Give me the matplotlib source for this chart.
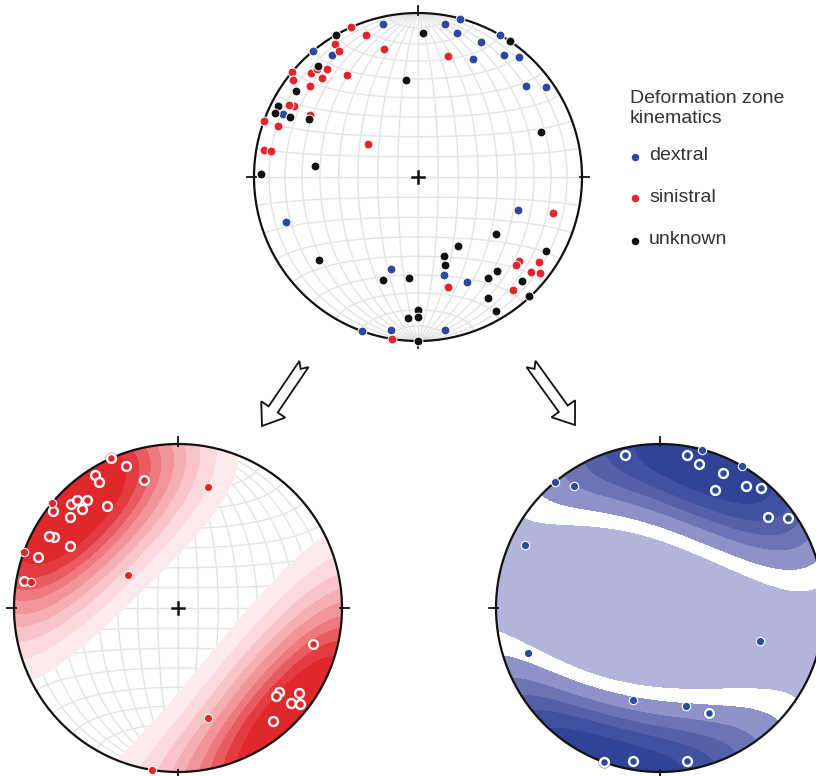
import numpy as np
import matplotlib
matplotlib.use('Agg')
import matplotlib.pyplot as plt
from matplotlib.patches import Circle, Polygon

plt.rcParams['font.family'] = ['Liberation Sans', 'DejaVu Sans']

# Poles to deformation zones, lower hemisphere, degrees.
# ring = 1: drawn as open ring on the contoured nets
# contoured = 1: pole counted in the density contours
dextral_trend = [347, 10, 15, 15, 30, 25, 320, 325, 25, 35, 40, 50, 55, 295,
                 251, 108, 196, 165, 155, 200, 190, 170]
dextral_plunge = [5, 6, 0, 10, 0, 10, 0, 10, 22, 10, 5, 15, 5, 10,
                  16, 36, 41, 38, 30, 0, 6, 6]
dextral_ring = [1, 1, 0, 1, 0, 1, 0, 0, 1, 1, 1, 1, 1, 0,
                0, 0, 0, 0, 1, 1, 1, 1]
dextral_contoured = [1, 1, 1, 1, 1, 1, 1, 1, 1, 1, 1, 1, 1, 0,
                     0, 0, 0, 0, 1, 1, 1, 1]

sinistral_trend = [336, 340, 328, 328, 345, 14, 310, 314, 320, 325, 308, 316,
                   310, 300, 300, 290, 290, 280, 280, 303, 105, 130, 132, 125,
                   130, 128, 140, 165, 189, 299, 317]
sinistral_plunge = [0, 9, 5, 10, 20, 25, 0, 10, 15, 25, 4, 17,
                    15, 14, 25, 0, 10, 5, 10, 60, 16, 21, 21, 11,
                    11, 6, 11, 31, 0, 11, 11]
sinistral_ring = [1, 1, 1, 1, 1, 0, 0, 1, 1, 1, 1, 1,
                  1, 1, 1, 0, 1, 1, 0, 0, 1, 1, 1, 1,
                  1, 1, 1, 0, 0, 1, 1]
sinistral_contoured = sinistral_ring

unknown_trend = [330, 2, 34, 318, 305, 297, 294, 295, 298, 353, 70, 276, 271,
                 126, 150, 120, 162, 163, 230, 185, 199, 140, 145, 135, 137,
                 150, 150, 180, 184, 180, 180]
unknown_plunge = [0, 13, 0, 10, 10, 5, 5, 15, 26, 40, 21, 37, 5,
                  41, 50, 11, 48, 43, 22, 38, 34, 26, 26, 11, 1,
                  16, 6, 20, 15, 16, 0]

legend_labels = ['dextral', 'sinistral', 'unknown']

BLUE = '#2b4a9f'
RED = '#e2262b'
BLACK = '#111111'
GRID = '#e3e3e3'

RED_LEVELS = [0.14, 0.21, 0.28, 0.35, 0.42, 0.5, 0.57, 0.65, 0.74, 1.01]
RED_COLORS = ['#fdeaec', '#fbd9dc', '#f8c4c8', '#f5aeb2', '#f1959a',
              '#ed7a7f', '#e85b60', '#e43b40', '#e0272c']
BLUE_LEVELS = [0.0, 0.3, 0.39, 0.5, 0.6, 0.7, 0.82, 1.01]
BLUE_COLORS = ['#b3b4dc', '#ffffff', '#8f92c9', '#6d74b6', '#5560a9',
               '#41509f', '#304396']

W, H = 816, 776
R_PX = 164


def project(trend, plunge):
    """Lower hemisphere equal-area projection, unit primitive."""
    t = np.radians(np.asarray(trend, float))
    p = np.radians(np.asarray(plunge, float))
    r = np.sqrt(2) * np.sin((np.pi / 2 - p) / 2)
    return r * np.sin(t), r * np.cos(t)


def net_axes(fig, cx, cy, half=180):
    ax = fig.add_axes([(cx - half) / W, (H - cy - half) / H, 2 * half / W, 2 * half / H])
    lim = half / R_PX
    ax.set_xlim(-lim, lim)
    ax.set_ylim(-lim, lim)
    ax.axis('off')
    return ax


def draw_net(ax):
    # Schmidt net, 10 degree spacing
    fine = np.radians(np.linspace(-90, 90, 241))
    for a in np.radians(np.arange(-80, 81, 10)):
        # great circles through N and S
        X = np.cos(fine) * np.sin(a)
        Y = np.sin(fine)
        Z = np.cos(fine) * np.cos(a)
        s = 1 / np.sqrt(1 + Z)
        ax.plot(X * s, Y * s, color=GRID, lw=1.0, zorder=1)
        # small circles about the N-S axis
        X = np.cos(a) * np.sin(fine)
        Y = np.sin(a) * np.ones_like(fine)
        Z = np.cos(a) * np.cos(fine)
        s = 1 / np.sqrt(1 + Z)
        ax.plot(X * s, Y * s, color=GRID, lw=1.0, zorder=1)

    ax.add_patch(Circle((0, 0), 1, fill=False, ec=BLACK, lw=1.6, zorder=6))
    for ang in np.radians([0, 90, 180, 270]):
        ax.plot([0.985 * np.sin(ang), 1.04 * np.sin(ang)],
                [0.985 * np.cos(ang), 1.04 * np.cos(ang)],
                color=BLACK, lw=1.3, zorder=6)


def center_cross(ax):
    ax.plot([-0.035, 0.035], [0, 0], color=BLACK, lw=1.8, zorder=6)
    ax.plot([0, 0], [-0.035, 0.035], color=BLACK, lw=1.8, zorder=6)


def density(trend, plunge, k, n=70):
    g = np.linspace(-1.03, 1.03, n)
    gx, gy = np.meshgrid(g, g)
    r2 = gx ** 2 + gy ** 2
    Z = 1 - np.clip(r2, 0, 1)
    X = gx * np.sqrt(1 + Z)
    Y = gy * np.sqrt(1 + Z)
    out = r2 > 1
    X[out] = gx[out] / np.sqrt(r2[out])
    Y[out] = gy[out] / np.sqrt(r2[out])
    t = np.radians(np.asarray(trend, float))
    p = np.radians(np.asarray(plunge, float))
    d = np.stack([np.cos(p) * np.sin(t), np.cos(p) * np.cos(t), np.sin(p)], axis=1)
    dots = np.abs(X[..., None] * d[:, 0] + Y[..., None] * d[:, 1] + Z[..., None] * d[:, 2])
    dens = np.exp(k * (dots - 1)).sum(-1)
    return gx, gy, dens / dens.max()


def contour_net(ax, trend, plunge, used, k, levels, colors):
    used = np.asarray(used, bool)
    gx, gy, dens = density(np.asarray(trend)[used], np.asarray(plunge)[used], k)
    cs = ax.contourf(gx, gy, dens, levels=levels, colors=colors, zorder=2)
    cs.set_clip_path(Circle((0, 0), 1, transform=ax.transData))


def ring_points(ax, trend, plunge, ring, color):
    x, y = project(trend, plunge)
    ring = np.asarray(ring, bool)
    ax.plot(x[ring], y[ring], 'o', ms=8.6, mfc=color, mec='none', zorder=7)
    ax.plot(x[ring], y[ring], 'o', ms=6.4, mfc=color, mec='white', mew=1.7, zorder=8)
    ax.plot(x[~ring], y[~ring], 'o', ms=6.0, mfc=color, mec='white', mew=0.8, zorder=8)


def arrow(ax, tail, tip, shaft=11, head_w=29, head_l=20, notch=6):
    tail = np.array(tail, float)
    tip = np.array(tip, float)
    u = tip - tail
    L = np.hypot(*u)
    u /= L
    v = np.array([-u[1], u[0]])
    local = [(0, shaft / 2), (notch, 0), (0, -shaft / 2),
             (L - head_l, -shaft / 2), (L - head_l, -head_w / 2), (L, 0),
             (L - head_l, head_w / 2), (L - head_l, shaft / 2)]
    pts = [tail + a * u + b * v for a, b in local]
    ax.add_patch(Polygon(pts, closed=True, fc='white', ec=BLACK, lw=1.3))


fig = plt.figure(figsize=(W / 100, H / 100), dpi=100)
fig.patch.set_facecolor('white')

# overlay in pixel units for arrows and legend
ov = fig.add_axes([0, 0, 1, 1])
ov.set_xlim(0, W)
ov.set_ylim(H, 0)
ov.axis('off')

arrow(ov, (304, 364), (262, 426))
arrow(ov, (531, 364), (575, 425))

ov.text(630, 90, 'Deformation zone\nkinematics', fontsize=14, color='#333333',
        va='top', ha='left', linespacing=1.2)
for lab, col, yy in zip(legend_labels, [BLUE, RED, BLACK], [156, 197, 240]):
    ov.plot(635, yy + 1, 'o', ms=4.4, color=col)
    ov.text(649, yy, lab, fontsize=14, color='#333333', va='center', ha='left')

# all kinematics
ax_top = net_axes(fig, 418, 177)
draw_net(ax_top)
center_cross(ax_top)
for tr, pl, col in [(dextral_trend, dextral_plunge, BLUE),
                    (sinistral_trend, sinistral_plunge, RED),
                    (unknown_trend, unknown_plunge, BLACK)]:
    x, y = project(tr, pl)
    ax_top.plot(x, y, 'o', ms=6.4, mfc=col, mec='white', mew=0.7, zorder=8)

# sinistral contours
ax_sin = net_axes(fig, 178, 608)
draw_net(ax_sin)
contour_net(ax_sin, sinistral_trend, sinistral_plunge, sinistral_contoured, 4,
            RED_LEVELS, RED_COLORS)
center_cross(ax_sin)
ring_points(ax_sin, sinistral_trend, sinistral_plunge, sinistral_ring, RED)

# dextral contours
ax_dex = net_axes(fig, 660, 608)
draw_net(ax_dex)
contour_net(ax_dex, dextral_trend, dextral_plunge, dextral_contoured, 3.5,
            BLUE_LEVELS, BLUE_COLORS)
ring_points(ax_dex, dextral_trend, dextral_plunge, dextral_ring, BLUE)

fig.savefig('out.png', dpi=100, facecolor='white')
